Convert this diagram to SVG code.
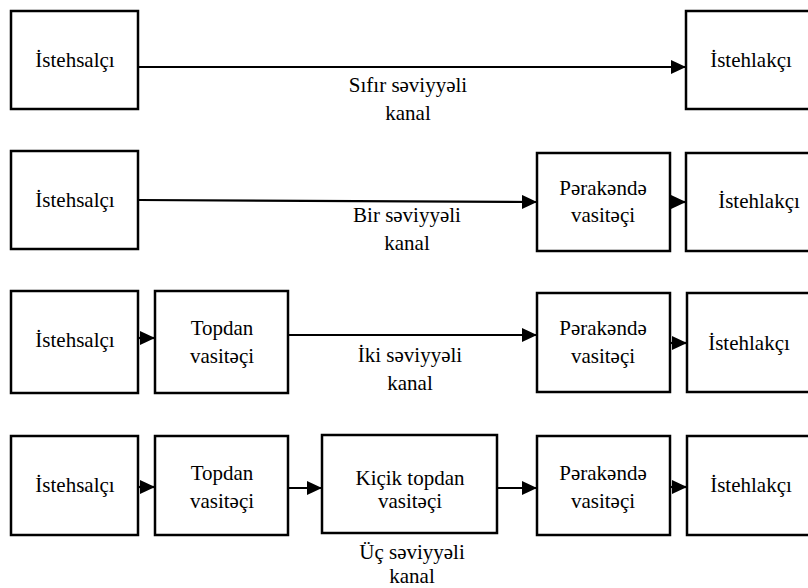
<svg xmlns="http://www.w3.org/2000/svg" width="808" height="588" viewBox="0 0 808 588">
<style>
.box{fill:#fff;stroke:#000;stroke-width:2.5}
.ln{fill:none;stroke:#000;stroke-width:2.2}
</style>
<defs>
<marker id="ah" viewBox="0 0 15 14" refX="15" refY="7" markerWidth="15" markerHeight="14" markerUnits="userSpaceOnUse" orient="auto">
<path d="M0,0 L15,7 L0,14 Z" fill="#000"/>
</marker>
</defs>
<rect width="808" height="588" fill="#fff"/>
<g font-family="Liberation Serif, Times New Roman, serif" font-size="21" text-anchor="middle" fill="#000">
<g id="connectors">
<line class="ln" x1="138" y1="67" x2="686" y2="67" marker-end="url(#ah)"/>
<line class="ln" x1="138" y1="200" x2="537" y2="202" marker-end="url(#ah)"/>
<line class="ln" x1="670" y1="202" x2="686" y2="202" marker-end="url(#ah)"/>
<line class="ln" x1="138" y1="338" x2="155" y2="338" marker-end="url(#ah)"/>
<line class="ln" x1="288" y1="335" x2="537" y2="335" marker-end="url(#ah)"/>
<line class="ln" x1="670" y1="343" x2="687" y2="343" marker-end="url(#ah)"/>
<line class="ln" x1="138" y1="487" x2="155" y2="487" marker-end="url(#ah)"/>
<line class="ln" x1="288" y1="488" x2="322" y2="488" marker-end="url(#ah)"/>
<line class="ln" x1="497" y1="488" x2="537" y2="488" marker-end="url(#ah)"/>
<line class="ln" x1="670" y1="487" x2="687" y2="487" marker-end="url(#ah)"/>
<text x="408" y="92">Sıfır səviyyəli</text>
<text x="408" y="120">kanal</text>
<text x="407" y="222">Bir səviyyəli</text>
<text x="407" y="250">kanal</text>
<text x="410" y="362">İki səviyyəli</text>
<text x="410" y="390">kanal</text>
<text x="412" y="559">Üç səviyyəli</text>
<text x="412" y="583">kanal</text>
</g>
<g id="r1-producer"><rect class="box" x="11" y="11" width="127" height="98"/><text x="75" y="67">İstehsalçı</text></g>
<g id="r1-consumer"><rect class="box" x="686" y="11" width="130" height="98"/><text x="751" y="67">İstehlakçı</text></g>

<g id="r2-producer"><rect class="box" x="11" y="151" width="127" height="98"/><text x="75" y="207">İstehsalçı</text></g>
<g id="r2-retail"><rect class="box" x="537" y="153" width="133" height="98"/><text x="603" y="195">Pərakəndə</text><text x="603" y="222">vasitəçi</text></g>
<g id="r2-consumer"><rect class="box" x="686" y="153" width="130" height="98"/><text x="759" y="208">İstehlakçı</text></g>

<g id="r3-producer"><rect class="box" x="11" y="291" width="127" height="102"/><text x="75" y="347">İstehsalçı</text></g>
<g id="r3-wholesale"><rect class="box" x="155" y="291" width="133" height="102"/><text x="222" y="335">Topdan</text><text x="222" y="363">vasitəçi</text></g>
<g id="r3-retail"><rect class="box" x="537" y="293" width="133" height="99"/><text x="603" y="335">Pərakəndə</text><text x="603" y="363">vasitəçi</text></g>
<g id="r3-consumer"><rect class="box" x="687" y="293" width="130" height="99"/><text x="749" y="350">İstehlakçı</text></g>

<g id="r4-producer"><rect class="box" x="11" y="436" width="127" height="99"/><text x="75" y="492">İstehsalçı</text></g>
<g id="r4-wholesale"><rect class="box" x="155" y="436" width="133" height="99"/><text x="222" y="480">Topdan</text><text x="222" y="508">vasitəçi</text></g>
<g id="r4-small-wholesale"><rect class="box" x="322" y="435" width="175" height="98"/><text x="410" y="485">Kiçik topdan</text><text x="410" y="508">vasitəçi</text></g>
<g id="r4-retail"><rect class="box" x="537" y="436" width="133" height="99"/><text x="603" y="480">Pərakəndə</text><text x="603" y="508">vasitəçi</text></g>
<g id="r4-consumer"><rect class="box" x="687" y="436" width="130" height="99"/><text x="751" y="492">İstehlakçı</text></g>
</g>
</svg>
